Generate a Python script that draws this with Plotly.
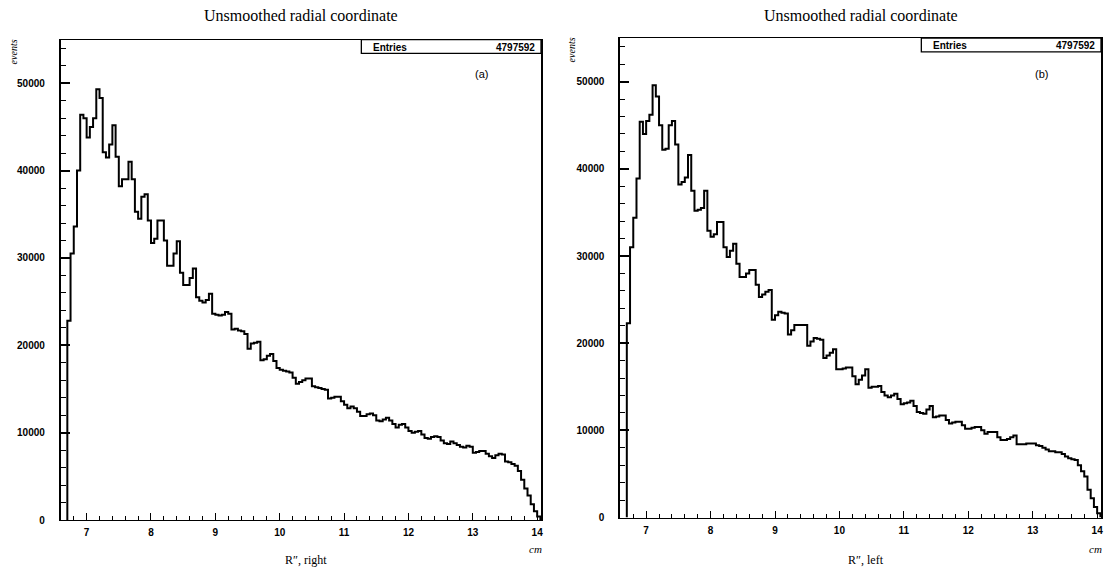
import plotly.graph_objects as go

# Histogram binning (cm)
BIN_START = 6.70
BIN_WIDTH = 0.05

# Panel (a): R'' right, events per bin
counts_right = [
    22800, 30500, 33600, 40000, 46400, 46000, 43800, 45000, 46000, 49300,
    48300, 42100, 41500, 43000, 45200, 41600, 38200, 39000, 39000, 41000,
    39000, 35300, 34500, 37000, 37300, 34300, 31700, 32200, 34300, 34300,
    32000, 29100, 29100, 30500, 31900, 28300, 26900, 26900, 27700, 28800,
    25500, 25100, 24900, 25200, 25900, 23600, 23500, 23400, 23500, 23800,
    23600, 21800, 21900, 21700, 21600, 21300, 19600, 20200, 20300, 20400,
    18300, 18400, 18800, 19000, 18200, 17400, 17200, 17100, 17000, 16900,
    16300, 15600, 15800, 16000, 16200, 16200, 15300, 15200, 15100, 15000,
    14900, 13900, 14000, 14100, 14100, 13600, 13200, 12800, 13000, 12800,
    12400, 11900, 11900, 12100, 12200, 12000, 11400, 11300, 11500, 11700,
    11400, 11000, 10600, 10900, 11000, 10600, 10200, 10000, 10100, 10200,
    9800, 9400, 9300, 9500, 9600, 9500, 9100, 8800, 8700, 9000,
    8800, 8600, 8400, 8300, 8500, 8400, 7700, 7800, 7900, 7900,
    7600, 7300, 7100, 7400, 7600, 7500, 6700, 6600, 6400, 6200,
    5600, 4600, 3600, 2800, 1800, 1000, 400,
]

# Panel (b): R'' left, events per bin
counts_left = [
    22300, 31000, 34400, 38900, 45400, 44000, 45500, 46200, 49600, 48300,
    45000, 42200, 42300, 45000, 45500, 42800, 38200, 38500, 39000, 41600,
    37500, 35200, 35300, 35500, 37500, 32900, 32200, 32500, 33900, 33900,
    31000, 29900, 30600, 31400, 29100, 27600, 27600, 28000, 28400, 28400,
    26700, 25300, 25600, 25900, 26100, 22700, 23200, 23600, 23500, 23400,
    21000, 21500, 22100, 22100, 22100, 22100, 19700, 20200, 20600, 20500,
    20400, 18300, 18600, 18900, 19300, 17000, 17000, 17100, 17200, 17200,
    16200, 15300, 15800, 16300, 17000, 14900, 15000, 15000, 15100, 14400,
    14000, 13800, 14000, 14200, 13600, 13000, 13100, 13200, 13400, 12800,
    12100, 12000, 11900, 12400, 12800, 11500, 11600, 11700, 11700, 11200,
    10800, 10900, 11000, 11000, 10600, 10200, 10200, 10300, 10400, 10400,
    10000, 9600, 9800, 9800, 9800, 9200, 8900, 8900, 9000, 9200,
    9400, 8400, 8400, 8400, 8500, 8500, 8500, 8300, 8200, 8000,
    7800, 7600, 7600, 7500, 7500, 7300, 7000, 6800, 6700, 6600,
    6000, 5300, 4700, 3200, 2200, 1200, 500,
]

panel_titles = ["Unsmoothed radial coordinate", "Unsmoothed radial coordinate"]
x_titles = ["R\u2033, right", "R\u2033, left"]
panel_tags = ["(a)", "(b)"]
entries = ["4797592", "4797592"]

X_RANGE = [6.6, 14.06]
Y_RANGE = [0, 55000]

W, H = 1107, 575
# frame boxes in pixels: (left, right, top, bottom)
frames = [(61, 542, 40, 525.5), (621.5, 1103, 38.5, 523)]


def px(x):
    return x / W


def py(y):
    return 1 - y / H


def step_xy(counts):
    edges = [round(BIN_START + i * BIN_WIDTH, 4) for i in range(len(counts) + 1)]
    xs = [edges[0]] + edges[:-1] + [edges[-1]]
    ys = [0] + list(counts) + [0]
    return xs, ys


fig = go.Figure()

tick_font = dict(family="Liberation Sans, Arial, sans-serif", size=10,
                 color="black", weight="bold")

for i, counts in enumerate([counts_right, counts_left]):
    xs, ys = step_xy(counts)
    xa = "x" if i == 0 else "x2"
    ya = "y" if i == 0 else "y2"
    fig.add_trace(go.Scatter(
        x=xs, y=ys, mode="lines", line_shape="hv",
        line=dict(color="black", width=2),
        xaxis=xa, yaxis=ya, showlegend=False, hoverinfo="skip",
    ))

layout_axes = {}
for i, (l, r, t, b) in enumerate(frames):
    sx = "" if i == 0 else "2"
    layout_axes["xaxis" + sx] = dict(
        domain=[px(l), px(r)], range=X_RANGE, anchor="y" + sx,
        showgrid=False, zeroline=False,
        showline=True, linecolor="black", linewidth=1, mirror=True,
        ticks="inside", ticklen=7, tickwidth=1.2, tickcolor="black",
        dtick=1, tick0=0, tickformat="d",
        minor=dict(ticks="inside", ticklen=4, dtick=0.2, tick0=0,
                   tickcolor="black", tickwidth=1),
        tickfont=tick_font, ticklabelstandoff=3,
    )
    layout_axes["yaxis" + sx] = dict(
        domain=[py(b), py(t)], range=Y_RANGE, anchor="x" + sx,
        showgrid=False, zeroline=False,
        showline=True, linecolor="black", linewidth=2, mirror=True,
        ticks="inside", ticklen=9, tickwidth=1.5, tickcolor="black",
        dtick=10000, tick0=0, tickformat="d",
        minor=dict(ticks="inside", ticklen=5, dtick=2000, tick0=0,
                   tickcolor="black", tickwidth=1.2),
        tickfont=tick_font, ticklabelstandoff=12,
    )

shapes = []
annotations = []
serif = "Liberation Serif, Times New Roman, serif"
sans = "Liberation Sans, Arial, sans-serif"

for i, (l, r, t, b) in enumerate(frames):
    cx = (l + r) / 2
    # panel title
    annotations.append(dict(
        text=panel_titles[i], x=px(cx), y=py(16), xref="paper", yref="paper",
        xanchor="center", yanchor="middle", showarrow=False,
        font=dict(family=serif, size=16, color="black"),
    ))
    # statistics box
    bx0, bx1, by0, by1 = r - 180, r, t, t + 14
    shapes.append(dict(
        type="rect", xref="paper", yref="paper",
        x0=px(bx0), x1=px(bx1), y0=py(by1), y1=py(by0),
        line=dict(color="black", width=1.3), fillcolor="white",
    ))
    annotations.append(dict(
        text="Entries", x=px(bx0 + 10), y=py(t + 7.5), xref="paper", yref="paper",
        xanchor="left", yanchor="middle", showarrow=False,
        font=dict(family=sans, size=10, color="black", weight="bold"),
    ))
    annotations.append(dict(
        text=entries[i], x=px(bx1 - 4), y=py(t + 7.5), xref="paper", yref="paper",
        xanchor="right", yanchor="middle", showarrow=False,
        font=dict(family=sans, size=10, color="black", weight="bold"),
    ))
    # panel tag
    annotations.append(dict(
        text=panel_tags[i], x=px(r - 60), y=py(75), xref="paper", yref="paper",
        xanchor="center", yanchor="middle", showarrow=False,
        font=dict(family=sans, size=11, color="black"),
    ))
    # y-axis label
    annotations.append(dict(
        text="<i>events</i>", x=px(l - 48), y=py(t + 12), xref="paper", yref="paper",
        xanchor="center", yanchor="middle", showarrow=False, textangle=-90,
        font=dict(family=serif, size=10, color="black"),
    ))
    # x-axis unit
    annotations.append(dict(
        text="<i>cm</i>", x=px(r - 6), y=py(555), xref="paper", yref="paper",
        xanchor="center", yanchor="middle", showarrow=False,
        font=dict(family=serif, size=11, color="black"),
    ))
    # x-axis title
    annotations.append(dict(
        text=x_titles[i], x=px(l + 246), y=py(566), xref="paper", yref="paper",
        xanchor="center", yanchor="middle", showarrow=False,
        font=dict(family=serif, size=12, color="black"),
    ))

fig.update_layout(
    width=W, height=H,
    margin=dict(l=0, r=0, t=0, b=0),
    paper_bgcolor="white", plot_bgcolor="white",
    shapes=shapes, annotations=annotations,
    **layout_axes,
)

fig.write_html("out.html")
